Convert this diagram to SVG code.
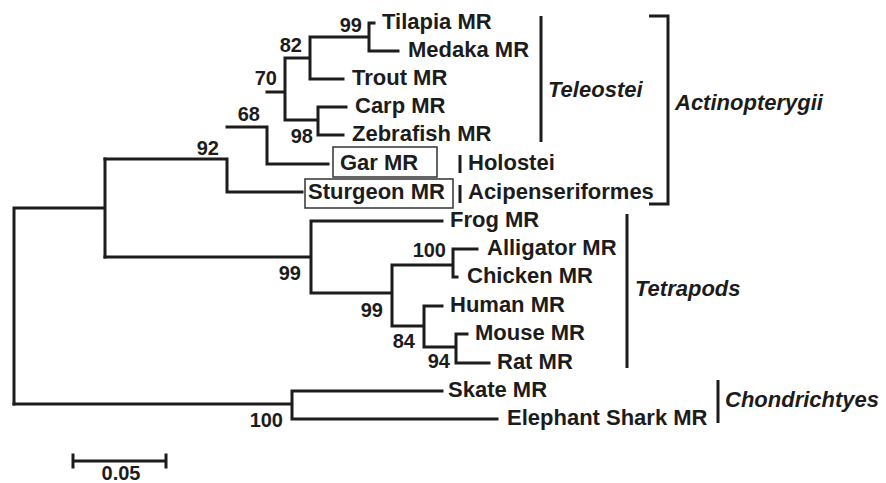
<svg xmlns="http://www.w3.org/2000/svg" width="886" height="483" viewBox="0 0 886 483">
<style>
.br{fill:none;stroke:#1c1c1c;stroke-width:3;stroke-linecap:square;stroke-linejoin:miter}
.bar{fill:none;stroke:#1c1c1c;stroke-width:3}
.box{fill:none;stroke:#333;stroke-width:1.5}
.lf{font-family:"Liberation Sans",Arial,sans-serif;font-weight:bold;font-size:22px;fill:#1c1c1c}
.bs{font-family:"Liberation Sans",Arial,sans-serif;font-weight:bold;font-size:20px;fill:#1c1c1c;text-anchor:end}
.cl{font-family:"Liberation Sans",Arial,sans-serif;font-weight:bold;font-style:italic;font-size:22px;fill:#1c1c1c}
</style>
<rect width="886" height="483" fill="#fff"/>
<g id="connectors">
<path class="br" d="M14,208 V404 M14,208 H105 M105,159 V257"/>
<path class="br" d="M105,159 H227 V192 H302 M227,127 H267 V164 H328 M267,92 H285 V58 M285,92 V120 H318 M285,58 H310 V79 H343 M310,58 V37 H369 V23 H374 M369,37 V51 H398 M318,107 V135 H343 M318,107 H346"/>
<path class="br" d="M105,257 H311 V221 H442 M311,257 V293 H392 V265 H453 V249 H477 M453,265 V277 H457 M392,293 V326 H424 V306 H442 M424,326 V347 H456 V334 H467 M456,347 V363 H489"/>
<path class="br" d="M14,404 H292 V391 H442 M292,404 V419 H497"/>
</g>
<g id="bootstrap">
<text class="bs" x="362" y="32">99</text>
<text class="bs" x="302" y="52">82</text>
<text class="bs" x="277" y="85">70</text>
<text class="bs" x="260" y="121">68</text>
<text class="bs" x="313" y="143">98</text>
<text class="bs" x="219" y="155">92</text>
<text class="bs" x="301" y="280">99</text>
<text class="bs" x="446" y="257">100</text>
<text class="bs" x="383" y="317">99</text>
<text class="bs" x="415" y="348">84</text>
<text class="bs" x="450" y="368">94</text>
<text class="bs" x="283" y="427">100</text>
</g>
<g id="leaf-tilapia"><text class="lf" x="382" y="29">Tilapia MR</text></g>
<g id="leaf-medaka"><text class="lf" x="408" y="57">Medaka MR</text></g>
<g id="leaf-trout"><text class="lf" x="352" y="85">Trout MR</text></g>
<g id="leaf-carp"><text class="lf" x="355" y="113">Carp MR</text></g>
<g id="leaf-zebrafish"><text class="lf" x="352" y="141">Zebrafish MR</text></g>
<g id="leaf-gar"><rect class="box" x="333" y="147" width="104" height="30"/><text class="lf" x="340" y="170">Gar MR</text></g>
<g id="leaf-sturgeon"><rect class="box" x="305" y="179" width="148" height="29"/><text class="lf" x="308" y="199">Sturgeon MR</text></g>
<g id="leaf-frog"><text class="lf" x="450" y="227">Frog MR</text></g>
<g id="leaf-alligator"><text class="lf" x="487" y="255">Alligator MR</text></g>
<g id="leaf-chicken"><text class="lf" x="467" y="283">Chicken MR</text></g>
<g id="leaf-human"><text class="lf" x="450" y="312">Human MR</text></g>
<g id="leaf-mouse"><text class="lf" x="475" y="340">Mouse MR</text></g>
<g id="leaf-rat"><text class="lf" x="497" y="369">Rat MR</text></g>
<g id="leaf-skate"><text class="lf" x="448" y="397">Skate MR</text></g>
<g id="leaf-elephant-shark"><text class="lf" x="507" y="425">Elephant Shark MR</text></g>
<g id="clade-teleostei"><path class="bar" d="M541,16 V142"/><text class="cl" x="548" y="97">Teleostei</text></g>
<g id="clade-holostei"><path class="bar" d="M460,155 V173"/><text class="lf" x="468" y="170">Holostei</text></g>
<g id="clade-acipenseriformes"><path class="bar" d="M460,185 V203"/><text class="lf" x="468" y="199">Acipenseriformes</text></g>
<g id="clade-actinopterygii"><path class="bar" d="M649,16 H668 V204 H649"/><text class="cl" x="675" y="110">Actinopterygii</text></g>
<g id="clade-tetrapods"><path class="bar" d="M627,214 V368"/><text class="cl" x="635" y="296">Tetrapods</text></g>
<g id="clade-chondrichtyes"><path class="bar" d="M718,380 V423"/><text class="cl" x="725" y="407">Chondrichtyes</text></g>
<g id="scale-bar"><path class="br" d="M73,461 H166 M73,455 V467 M166,455 V467"/><text class="bs" style="text-anchor:middle" x="121" y="480">0.05</text></g>
</svg>
